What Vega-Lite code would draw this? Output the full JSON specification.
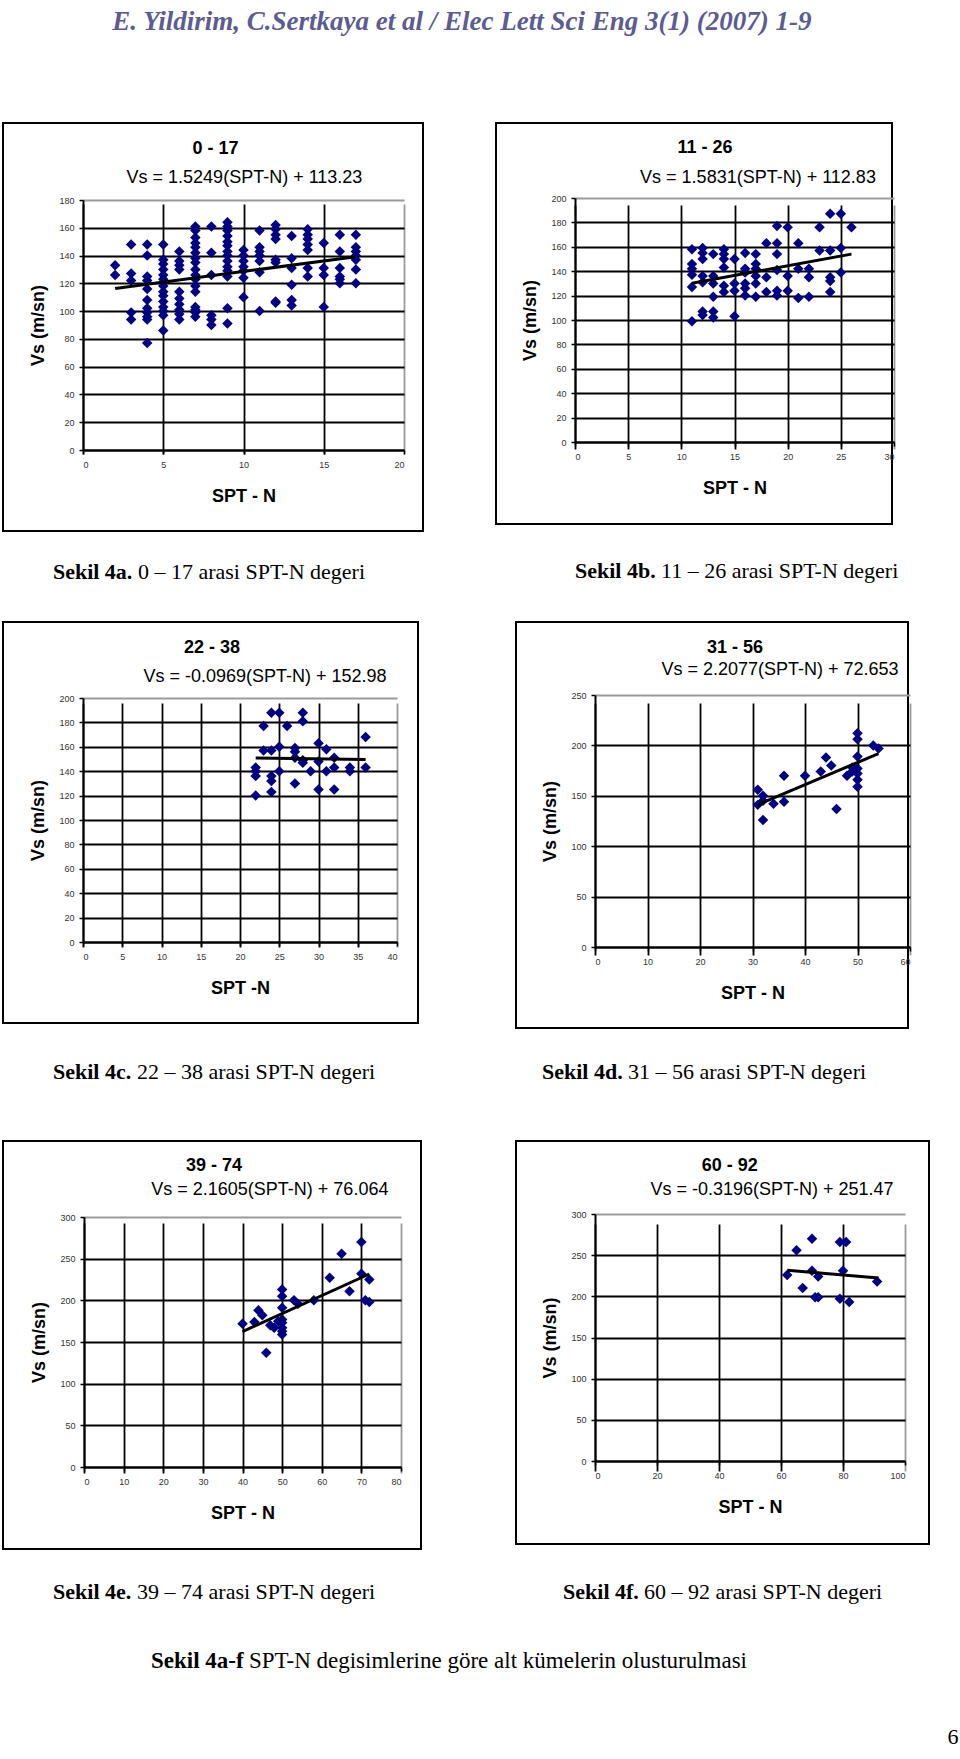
{
  "$schema": "https://vega.github.io/schema/vega-lite/v6.json",
  "background": "white",
  "padding": {"left": 2, "top": 6, "right": 0, "bottom": 0},
  "config": {
    "view": {"stroke": "black", "strokeWidth": 2},
    "font": "Liberation Sans",
    "axis": {
      "labelFont": "Liberation Sans", "labelFontSize": 9, "labelColor": "#333333",
      "titleFont": "Liberation Sans", "titleFontSize": 18, "titleFontWeight": "bold", "titleColor": "black",
      "domainColor": "black", "domainWidth": 2, "tickColor": "black", "tickWidth": 1.5, "tickSize": 4,
      "grid": true, "gridWidth": 1.8, "gridOpacity": 1
    },
    "axisX": {"labelPadding": 6, "titlePadding": 18},
    "axisY": {"labelPadding": 5, "titlePadding": 11},
    "point": {"shape": "diamond", "filled": true, "color": "#000080", "size": 110, "opacity": 1},
    "line": {"color": "black", "strokeWidth": 3},
    "text": {"font": "Liberation Sans", "color": "black", "baseline": "middle"}
  },
  "datasets": {
    "a": [
      {"n":2,"vs":133},{"n":2,"vs":126},
      {"n":3,"vs":148},{"n":3,"vs":127},{"n":3,"vs":122},{"n":3,"vs":99},{"n":3,"vs":94},
      {"n":4,"vs":148},{"n":4,"vs":140},{"n":4,"vs":125},{"n":4,"vs":122},{"n":4,"vs":116},{"n":4,"vs":108},{"n":4,"vs":102},{"n":4,"vs":99},{"n":4,"vs":96},{"n":4,"vs":94},{"n":4,"vs":77},
      {"n":5,"vs":148},{"n":5,"vs":137},{"n":5,"vs":134},{"n":5,"vs":130},{"n":5,"vs":126},{"n":5,"vs":123},{"n":5,"vs":118},{"n":5,"vs":114},{"n":5,"vs":111},{"n":5,"vs":107},{"n":5,"vs":103},{"n":5,"vs":100},{"n":5,"vs":97},{"n":5,"vs":86},
      {"n":6,"vs":143},{"n":6,"vs":136},{"n":6,"vs":133},{"n":6,"vs":130},{"n":6,"vs":114},{"n":6,"vs":109},{"n":6,"vs":105},{"n":6,"vs":101},{"n":6,"vs":98},{"n":6,"vs":94},
      {"n":7,"vs":161},{"n":7,"vs":158},{"n":7,"vs":153},{"n":7,"vs":149},{"n":7,"vs":146},{"n":7,"vs":142},{"n":7,"vs":138},{"n":7,"vs":135},{"n":7,"vs":130},{"n":7,"vs":126},{"n":7,"vs":123},{"n":7,"vs":118},{"n":7,"vs":114},{"n":7,"vs":103},{"n":7,"vs":101},{"n":7,"vs":99},{"n":7,"vs":96},
      {"n":8,"vs":161},{"n":8,"vs":142},{"n":8,"vs":126},{"n":8,"vs":97},{"n":8,"vs":94},{"n":8,"vs":90},
      {"n":9,"vs":164},{"n":9,"vs":161},{"n":9,"vs":158},{"n":9,"vs":154},{"n":9,"vs":150},{"n":9,"vs":147},{"n":9,"vs":143},{"n":9,"vs":140},{"n":9,"vs":136},{"n":9,"vs":132},{"n":9,"vs":129},{"n":9,"vs":125},{"n":9,"vs":102},{"n":9,"vs":91},
      {"n":10,"vs":144},{"n":10,"vs":140},{"n":10,"vs":136},{"n":10,"vs":132},{"n":10,"vs":129},{"n":10,"vs":124},{"n":10,"vs":110},
      {"n":11,"vs":158},{"n":11,"vs":146},{"n":11,"vs":143},{"n":11,"vs":140},{"n":11,"vs":136},{"n":11,"vs":128},{"n":11,"vs":100},
      {"n":12,"vs":162},{"n":12,"vs":159},{"n":12,"vs":155},{"n":12,"vs":152},{"n":12,"vs":137},{"n":12,"vs":135},{"n":12,"vs":107},{"n":12,"vs":106},
      {"n":13,"vs":154},{"n":13,"vs":138},{"n":13,"vs":131},{"n":13,"vs":119},{"n":13,"vs":108},{"n":13,"vs":104},
      {"n":14,"vs":159},{"n":14,"vs":155},{"n":14,"vs":152},{"n":14,"vs":148},{"n":14,"vs":144},{"n":14,"vs":131},{"n":14,"vs":125},
      {"n":15,"vs":149},{"n":15,"vs":131},{"n":15,"vs":126},{"n":15,"vs":103},
      {"n":16,"vs":155},{"n":16,"vs":143},{"n":16,"vs":131},{"n":16,"vs":125},{"n":16,"vs":123},{"n":16,"vs":120},
      {"n":17,"vs":155},{"n":17,"vs":146},{"n":17,"vs":143},{"n":17,"vs":140},{"n":17,"vs":137},{"n":17,"vs":130},{"n":17,"vs":120}
    ],
    "a_fit": [{"n":2,"vs":116.3},{"n":17,"vs":139.2}],
    "b": [
      {"n":11,"vs":158},{"n":11,"vs":146},{"n":11,"vs":142},{"n":11,"vs":137},{"n":11,"vs":127},{"n":11,"vs":99},
      {"n":12,"vs":159},{"n":12,"vs":155},{"n":12,"vs":150},{"n":12,"vs":136},{"n":12,"vs":131},{"n":12,"vs":107},{"n":12,"vs":104},
      {"n":13,"vs":154},{"n":13,"vs":136},{"n":13,"vs":130},{"n":13,"vs":119},{"n":13,"vs":107},{"n":13,"vs":102},
      {"n":14,"vs":158},{"n":14,"vs":154},{"n":14,"vs":150},{"n":14,"vs":143},{"n":14,"vs":128},{"n":14,"vs":123},
      {"n":15,"vs":150},{"n":15,"vs":130},{"n":15,"vs":124},{"n":15,"vs":103},
      {"n":16,"vs":155},{"n":16,"vs":142},{"n":16,"vs":139},{"n":16,"vs":130},{"n":16,"vs":126},{"n":16,"vs":120},
      {"n":17,"vs":154},{"n":17,"vs":146},{"n":17,"vs":142},{"n":17,"vs":136},{"n":17,"vs":130},{"n":17,"vs":119},
      {"n":18,"vs":163},{"n":18,"vs":135},{"n":18,"vs":123},
      {"n":19,"vs":177},{"n":19,"vs":163},{"n":19,"vs":154},{"n":19,"vs":141},{"n":19,"vs":124},{"n":19,"vs":120},
      {"n":20,"vs":176},{"n":20,"vs":136},{"n":20,"vs":124},
      {"n":21,"vs":163},{"n":21,"vs":142},{"n":21,"vs":118},
      {"n":22,"vs":142},{"n":22,"vs":135},{"n":22,"vs":119},
      {"n":23,"vs":176},{"n":23,"vs":157},
      {"n":24,"vs":187},{"n":24,"vs":157},{"n":24,"vs":135},{"n":24,"vs":132},{"n":24,"vs":123},
      {"n":25,"vs":187},{"n":25,"vs":159},{"n":25,"vs":139},
      {"n":26,"vs":176}
    ],
    "b_fit": [{"n":11,"vs":130.2},{"n":26,"vs":154.0}],
    "c": [
      {"n":22,"vs":143},{"n":22,"vs":140},{"n":22,"vs":136},{"n":22,"vs":120},
      {"n":23,"vs":177},{"n":23,"vs":157},
      {"n":24,"vs":188},{"n":24,"vs":157},{"n":24,"vs":136},{"n":24,"vs":132},{"n":24,"vs":123},
      {"n":25,"vs":188},{"n":25,"vs":160},{"n":25,"vs":140},
      {"n":26,"vs":177},
      {"n":27,"vs":159},{"n":27,"vs":156},{"n":27,"vs":151},{"n":27,"vs":130},
      {"n":28,"vs":188},{"n":28,"vs":181},{"n":28,"vs":149},{"n":28,"vs":147},
      {"n":29,"vs":140},
      {"n":30,"vs":163},{"n":30,"vs":148},{"n":30,"vs":125},
      {"n":31,"vs":158},{"n":31,"vs":140},
      {"n":32,"vs":151},{"n":32,"vs":143},{"n":32,"vs":125},
      {"n":34,"vs":143},{"n":34,"vs":140},
      {"n":36,"vs":168},{"n":36,"vs":143}
    ],
    "c_fit": [{"n":22,"vs":150.85},{"n":36,"vs":149.5}],
    "d": [
      {"n":31,"vs":156},{"n":31,"vs":141},
      {"n":32,"vs":150},{"n":32,"vs":145},{"n":32,"vs":126},
      {"n":34,"vs":142},
      {"n":36,"vs":170},{"n":36,"vs":144},
      {"n":40,"vs":170},{"n":43,"vs":174},{"n":44,"vs":188},{"n":45,"vs":180},{"n":46,"vs":137},
      {"n":48,"vs":170},{"n":49,"vs":174},{"n":49,"vs":178},
      {"n":50,"vs":212},{"n":50,"vs":206},{"n":50,"vs":189},{"n":50,"vs":177},{"n":50,"vs":172},{"n":50,"vs":166},{"n":50,"vs":159},
      {"n":53,"vs":200},{"n":54,"vs":197}
    ],
    "d_fit": [{"n":31,"vs":141.1},{"n":54,"vs":191.9}],
    "e": [
      {"n":40,"vs":172},{"n":43,"vs":174},{"n":44,"vs":188},{"n":45,"vs":182},{"n":46,"vs":137},
      {"n":47,"vs":170},{"n":48,"vs":167},{"n":49,"vs":175},
      {"n":50,"vs":213},{"n":50,"vs":205},{"n":50,"vs":191},{"n":50,"vs":177},{"n":50,"vs":173},{"n":50,"vs":167},{"n":50,"vs":163},{"n":50,"vs":159},
      {"n":53,"vs":200},{"n":54,"vs":196},{"n":58,"vs":200},{"n":62,"vs":227},{"n":65,"vs":256},{"n":67,"vs":211},
      {"n":70,"vs":270},{"n":70,"vs":232},{"n":71,"vs":200},{"n":72,"vs":225},{"n":72,"vs":198}
    ],
    "e_fit": [{"n":40,"vs":162.5},{"n":72,"vs":231.6}],
    "f": [
      {"n":62,"vs":226},{"n":65,"vs":256},{"n":67,"vs":210},{"n":70,"vs":270},{"n":70,"vs":231},
      {"n":71,"vs":199},{"n":72,"vs":224},{"n":72,"vs":199},{"n":79,"vs":266},{"n":79,"vs":197},
      {"n":80,"vs":231},{"n":81,"vs":266},{"n":82,"vs":193},{"n":91,"vs":218}
    ],
    "f_fit": [{"n":62,"vs":231.7},{"n":91.5,"vs":222.2}]
  },
  "spacing": 37,
  "vconcat": [
    {
      "bounds": "flush",
      "spacing": 73,
      "hconcat": [
        {
          "width": 420, "height": 408,
          "layer": [
            {"data": {"name": "a"}, "mark": {"type": "point"},
              "encoding": {
                "x": {"field": "n", "type": "quantitative",
                  "scale": {"domain": [0, 20], "range": [80, 401], "nice": false, "zero": false},
                  "axis": {"values": [0, 5, 10, 15, 20], "offset": -81, "title": "SPT - N",
                    "gridColor": {"condition": {"test": "datum.value === 20", "value": "#9a9a9a"}, "value": "black"}}},
                "y": {"field": "vs", "type": "quantitative",
                  "scale": {"domain": [0, 180], "range": [327, 77], "nice": false, "zero": false},
                  "axis": {"values": [0, 20, 40, 60, 80, 100, 120, 140, 160, 180], "offset": -80, "title": "Vs (m/sn)",
                    "gridColor": {"condition": {"test": "datum.value === 180", "value": "#9a9a9a"}, "value": "black"}}}
              }},
            {"data": {"name": "a_fit"}, "mark": {"type": "line"},
              "encoding": {"x": {"field": "n", "type": "quantitative"}, "y": {"field": "vs", "type": "quantitative"}}},
            {"data": {"values": [{}]}, "mark": {"type": "text", "fontSize": 18, "fontWeight": "bold", "align": "center"},
              "encoding": {"x": {"datum": 8.25}, "y": {"datum": 216.7}, "text": {"value": "0 - 17"}}},
            {"data": {"values": [{}]}, "mark": {"type": "text", "fontSize": 18, "align": "center"},
              "encoding": {"x": {"datum": 10.06}, "y": {"datum": 195.8}, "text": {"value": "Vs = 1.5249(SPT-N) + 113.23"}}},
            {"data": {"values": [{}]}, "mark": {"type": "text", "font": "Liberation Serif", "fontSize": 27, "fontWeight": "bold", "fontStyle": "italic", "color": "#5c5c90", "align": "center"},
              "encoding": {"x": {"datum": 23.6}, "y": {"datum": 308.2}, "text": {"value": "E. Yildirim, C.Sertkaya et al  / Elec Lett Sci Eng 3(1) (2007) 1-9"}}},
            {"data": {"values": [{}]}, "mark": {"type": "text", "font": "Liberation Serif", "fontSize": 22, "fontWeight": "bold", "align": "left"},
              "encoding": {"x": {"datum": -1.875}, "y": {"datum": -87.8}, "text": {"value": "Sekil 4a."}}},
            {"data": {"values": [{}]}, "mark": {"type": "text", "font": "Liberation Serif", "fontSize": 22, "align": "left", "dx": 85},
              "encoding": {"x": {"datum": -1.875}, "y": {"datum": -87.8}, "text": {"value": "0 – 17 arasi SPT-N degeri"}}}
          ]
        },
        {
          "width": 396, "height": 401,
          "layer": [
            {"data": {"name": "b"}, "mark": {"type": "point"},
              "encoding": {
                "x": {"field": "n", "type": "quantitative",
                  "scale": {"domain": [0, 30], "range": [79, 398], "nice": false, "zero": false},
                  "axis": {"values": [0, 5, 10, 15, 20, 25, 30], "offset": -82, "title": "SPT - N",
                    "gridColor": {"condition": {"test": "datum.value === 30", "value": "#9a9a9a"}, "value": "black"}}},
                "y": {"field": "vs", "type": "quantitative",
                  "scale": {"domain": [0, 200], "range": [319, 75], "nice": false, "zero": false},
                  "axis": {"values": [0, 20, 40, 60, 80, 100, 120, 140, 160, 180, 200], "offset": -79, "title": "Vs (m/sn)",
                    "gridColor": {"condition": {"test": "datum.value === 200", "value": "#9a9a9a"}, "value": "black"}}}
              }},
            {"data": {"name": "b_fit"}, "mark": {"type": "line"},
              "encoding": {"x": {"field": "n", "type": "quantitative"}, "y": {"field": "vs", "type": "quantitative"}}},
            {"data": {"values": [{}]}, "mark": {"type": "text", "fontSize": 18, "fontWeight": "bold", "align": "center"},
              "encoding": {"x": {"datum": 12.23}, "y": {"datum": 241}, "text": {"value": "11 - 26"}}},
            {"data": {"values": [{}]}, "mark": {"type": "text", "fontSize": 18, "align": "center"},
              "encoding": {"x": {"datum": 17.21}, "y": {"datum": 216.4}, "text": {"value": "Vs = 1.5831(SPT-N) + 112.83"}}},
            {"data": {"values": [{}]}, "mark": {"type": "text", "font": "Liberation Serif", "fontSize": 22, "fontWeight": "bold", "align": "left"},
              "encoding": {"x": {"datum": 0}, "y": {"datum": -105.7}, "text": {"value": "Sekil 4b."}}},
            {"data": {"values": [{}]}, "mark": {"type": "text", "font": "Liberation Serif", "fontSize": 22, "align": "left", "dx": 86},
              "encoding": {"x": {"datum": 0}, "y": {"datum": -105.7}, "text": {"value": "11 – 26 arasi SPT-N degeri"}}}
          ]
        }
      ]
    },
    {
      "spacing": 55,
      "vconcat": [
        {
          "bounds": "flush",
          "spacing": 98,
          "hconcat": [
            {
              "width": 415, "height": 401,
              "layer": [
                {"data": {"name": "c"}, "mark": {"type": "point"},
                  "encoding": {
                    "x": {"field": "n", "type": "quantitative",
                      "scale": {"domain": [0, 40], "range": [80, 394], "nice": false, "zero": false},
                      "axis": {"values": [0, 5, 10, 15, 20, 25, 30, 35, 40], "offset": -81, "title": "SPT -N",
                        "gridColor": {"condition": {"test": "datum.value === 40", "value": "#9a9a9a"}, "value": "black"}}},
                    "y": {"field": "vs", "type": "quantitative",
                      "scale": {"domain": [0, 200], "range": [320, 76], "nice": false, "zero": false},
                      "axis": {"values": [0, 20, 40, 60, 80, 100, 120, 140, 160, 180, 200], "offset": -80, "title": "Vs (m/sn)",
                        "gridColor": {"condition": {"test": "datum.value === 200", "value": "#9a9a9a"}, "value": "black"}}}
                  }},
                {"data": {"name": "c_fit"}, "mark": {"type": "line"},
                  "encoding": {"x": {"field": "n", "type": "quantitative"}, "y": {"field": "vs", "type": "quantitative"}}},
                {"data": {"values": [{}]}, "mark": {"type": "text", "fontSize": 18, "fontWeight": "bold", "align": "center"},
                  "encoding": {"x": {"datum": 16.43}, "y": {"datum": 241}, "text": {"value": "22 - 38"}}},
                {"data": {"values": [{}]}, "mark": {"type": "text", "fontSize": 18, "align": "center"},
                  "encoding": {"x": {"datum": 23.18}, "y": {"datum": 217.2}, "text": {"value": "Vs = -0.0969(SPT-N) + 152.98"}}},
                {"data": {"values": [{}]}, "mark": {"type": "text", "font": "Liberation Serif", "fontSize": 22, "fontWeight": "bold", "align": "left"},
                  "encoding": {"x": {"datum": -3.82}, "y": {"datum": -106.6}, "text": {"value": "Sekil 4c."}}},
                {"data": {"values": [{}]}, "mark": {"type": "text", "font": "Liberation Serif", "fontSize": 22, "align": "left", "dx": 84},
                  "encoding": {"x": {"datum": -3.82}, "y": {"datum": -106.6}, "text": {"value": "22 – 38 arasi SPT-N degeri"}}}
              ]
            },
            {
              "width": 392, "height": 406,
              "layer": [
                {"data": {"name": "d"}, "mark": {"type": "point"},
                  "encoding": {
                    "x": {"field": "n", "type": "quantitative",
                      "scale": {"domain": [0, 60], "range": [79, 394], "nice": false, "zero": false},
                      "axis": {"values": [0, 10, 20, 30, 40, 50, 60], "offset": -81, "title": "SPT - N",
                        "gridColor": {"condition": {"test": "datum.value === 60", "value": "#9a9a9a"}, "value": "black"}}},
                    "y": {"field": "vs", "type": "quantitative",
                      "scale": {"domain": [0, 250], "range": [325, 73], "nice": false, "zero": false},
                      "axis": {"values": [0, 50, 100, 150, 200, 250], "offset": -79, "title": "Vs (m/sn)",
                        "gridColor": {"condition": {"test": "datum.value === 250", "value": "#9a9a9a"}, "value": "black"}}}
                  }},
                {"data": {"name": "d_fit"}, "mark": {"type": "line"},
                  "encoding": {"x": {"field": "n", "type": "quantitative"}, "y": {"field": "vs", "type": "quantitative"}}},
                {"data": {"values": [{}]}, "mark": {"type": "text", "fontSize": 18, "fontWeight": "bold", "align": "center"},
                  "encoding": {"x": {"datum": 26.67}, "y": {"datum": 296.6}, "text": {"value": "31 - 56"}}},
                {"data": {"values": [{}]}, "mark": {"type": "text", "fontSize": 18, "align": "center"},
                  "encoding": {"x": {"datum": 35.24}, "y": {"datum": 274.8}, "text": {"value": "Vs = 2.2077(SPT-N) + 72.653"}}},
                {"data": {"values": [{}]}, "mark": {"type": "text", "font": "Liberation Serif", "fontSize": 22, "fontWeight": "bold", "align": "left"},
                  "encoding": {"x": {"datum": -10.1}, "y": {"datum": -124}, "text": {"value": "Sekil 4d."}}},
                {"data": {"values": [{}]}, "mark": {"type": "text", "font": "Liberation Serif", "fontSize": 22, "align": "left", "dx": 86},
                  "encoding": {"x": {"datum": -10.1}, "y": {"datum": -124}, "text": {"value": "31 – 56 arasi SPT-N degeri"}}}
              ]
            }
          ]
        },
        {
          "bounds": "flush",
          "spacing": 95,
          "hconcat": [
            {
              "width": 418, "height": 408,
              "layer": [
                {"data": {"name": "e"}, "mark": {"type": "point"},
                  "encoding": {
                    "x": {"field": "n", "type": "quantitative",
                      "scale": {"domain": [0, 80], "range": [81, 398], "nice": false, "zero": false},
                      "axis": {"values": [0, 10, 20, 30, 40, 50, 60, 70, 80], "offset": -82, "title": "SPT - N",
                        "gridColor": {"condition": {"test": "datum.value === 80", "value": "#9a9a9a"}, "value": "black"}}},
                    "y": {"field": "vs", "type": "quantitative",
                      "scale": {"domain": [0, 300], "range": [326, 76], "nice": false, "zero": false},
                      "axis": {"values": [0, 50, 100, 150, 200, 250, 300], "offset": -81, "title": "Vs (m/sn)",
                        "gridColor": {"condition": {"test": "datum.value === 300", "value": "#9a9a9a"}, "value": "black"}}}
                  }},
                {"data": {"name": "e_fit"}, "mark": {"type": "line"},
                  "encoding": {"x": {"field": "n", "type": "quantitative"}, "y": {"field": "vs", "type": "quantitative"}}},
                {"data": {"values": [{}]}, "mark": {"type": "text", "fontSize": 18, "fontWeight": "bold", "align": "center"},
                  "encoding": {"x": {"datum": 32.8}, "y": {"datum": 361.2}, "text": {"value": "39 - 74"}}},
                {"data": {"values": [{}]}, "mark": {"type": "text", "fontSize": 18, "align": "center"},
                  "encoding": {"x": {"datum": 46.9}, "y": {"datum": 332.4}, "text": {"value": "Vs = 2.1605(SPT-N) + 76.064"}}},
                {"data": {"values": [{}]}, "mark": {"type": "text", "font": "Liberation Serif", "fontSize": 22, "fontWeight": "bold", "align": "left"},
                  "encoding": {"x": {"datum": -7.8}, "y": {"datum": -150}, "text": {"value": "Sekil 4e."}}},
                {"data": {"values": [{}]}, "mark": {"type": "text", "font": "Liberation Serif", "fontSize": 22, "align": "left", "dx": 84},
                  "encoding": {"x": {"datum": -7.8}, "y": {"datum": -150}, "text": {"value": "39 – 74 arasi SPT-N degeri"}}},
                {"data": {"values": [{}]}, "mark": {"type": "text", "font": "Liberation Serif", "fontSize": 23, "fontWeight": "bold", "align": "left"},
                  "encoding": {"x": {"datum": 16.9}, "y": {"datum": -232.8}, "text": {"value": "Sekil 4a-f"}}},
                {"data": {"values": [{}]}, "mark": {"type": "text", "font": "Liberation Serif", "fontSize": 23, "align": "left", "dx": 98},
                  "encoding": {"x": {"datum": 16.9}, "y": {"datum": -232.8}, "text": {"value": "SPT-N degisimlerine göre alt kümelerin olusturulmasi"}}}
              ]
            },
            {
              "width": 413, "height": 403,
              "layer": [
                {"data": {"name": "f"}, "mark": {"type": "point"},
                  "encoding": {
                    "x": {"field": "n", "type": "quantitative",
                      "scale": {"domain": [0, 100], "range": [79, 389], "nice": false, "zero": false},
                      "axis": {"values": [0, 20, 40, 60, 80, 100], "offset": -83, "title": "SPT - N",
                        "gridColor": {"condition": {"test": "datum.value === 100", "value": "#9a9a9a"}, "value": "black"}}},
                    "y": {"field": "vs", "type": "quantitative",
                      "scale": {"domain": [0, 300], "range": [320, 73], "nice": false, "zero": false},
                      "axis": {"values": [0, 50, 100, 150, 200, 250, 300], "offset": -79, "title": "Vs (m/sn)",
                        "gridColor": {"condition": {"test": "datum.value === 300", "value": "#9a9a9a"}, "value": "black"}}}
                  }},
                {"data": {"name": "f_fit"}, "mark": {"type": "line"},
                  "encoding": {"x": {"field": "n", "type": "quantitative"}, "y": {"field": "vs", "type": "quantitative"}}},
                {"data": {"values": [{}]}, "mark": {"type": "text", "fontSize": 18, "fontWeight": "bold", "align": "center"},
                  "encoding": {"x": {"datum": 43.5}, "y": {"datum": 358.3}, "text": {"value": "60 - 92"}}},
                {"data": {"values": [{}]}, "mark": {"type": "text", "fontSize": 18, "align": "center"},
                  "encoding": {"x": {"datum": 57.1}, "y": {"datum": 329.2}, "text": {"value": "Vs = -0.3196(SPT-N) + 251.47"}}},
                {"data": {"values": [{}]}, "mark": {"type": "text", "font": "Liberation Serif", "fontSize": 22, "fontWeight": "bold", "align": "left"},
                  "encoding": {"x": {"datum": -10.3}, "y": {"datum": -159.1}, "text": {"value": "Sekil 4f."}}},
                {"data": {"values": [{}]}, "mark": {"type": "text", "font": "Liberation Serif", "fontSize": 22, "align": "left", "dx": 81},
                  "encoding": {"x": {"datum": -10.3}, "y": {"datum": -159.1}, "text": {"value": "60 – 92 arasi SPT-N degeri"}}},
                {"data": {"values": [{}]}, "mark": {"type": "text", "font": "Liberation Serif", "fontSize": 22, "align": "center"},
                  "encoding": {"x": {"datum": 115.5}, "y": {"datum": -335.2}, "text": {"value": "6"}}}
              ]
            }
          ]
        }
      ]
    }
  ]
}
